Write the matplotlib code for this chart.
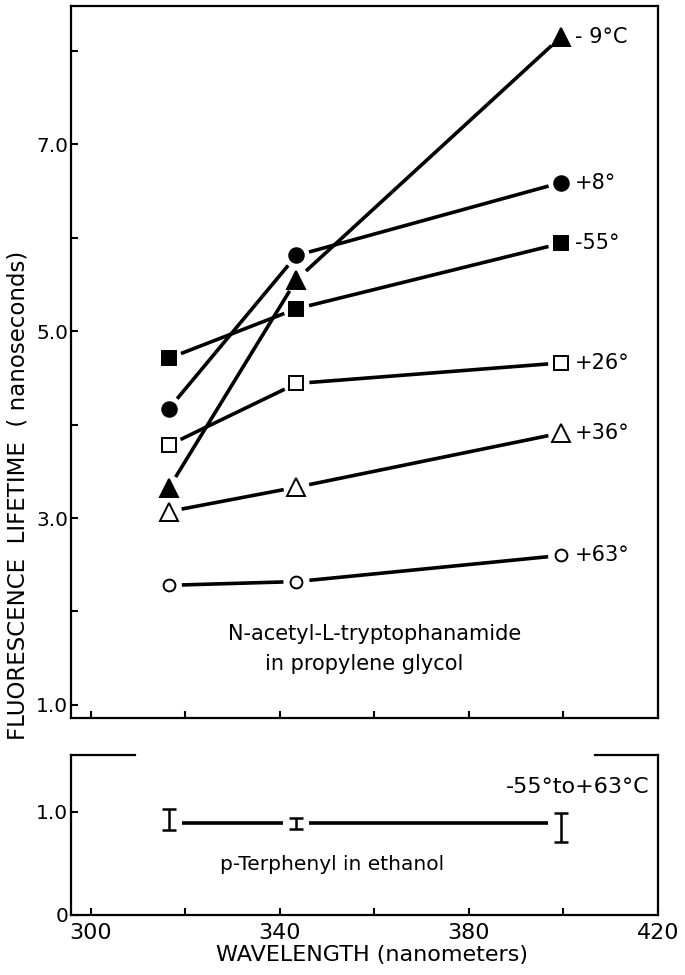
import matplotlib
matplotlib.use("Agg")
import matplotlib.pyplot as plt
import numpy as np

# ---------------- data ----------------
wavelengths = [316.5, 343.5, 399.5]

temp_labels = ["- 9°C", "+8°", "-55°", "+26°", "+36°", "+63°"]
lt_m9 = [3.32, 5.55, 8.15]
lt_p8 = [4.17, 5.81, 6.59]
lt_m55 = [4.71, 5.24, 5.94]
lt_p26 = [3.78, 4.44, 4.66]
lt_p36 = [3.07, 3.33, 3.91]
lt_p63 = [2.28, 2.32, 2.60]

pt_mean = [0.89, 0.89, 0.89]
pt_low = [0.825, 0.835, 0.71]
pt_high = [1.03, 0.94, 0.99]

x_ticks = [300, 320, 340, 360, 380, 400, 420]
x_ticklabels = ["300", "", "340", "", "380", "", "420"]
y_ticks_top = [1, 2, 3, 4, 5, 6, 7, 8]
y_ticklabels_top = ["1.0", "", "3.0", "", "5.0", "", "7.0", ""]
y_ticks_bot = [0, 1]
y_ticklabels_bot = ["0", "1.0"]

# ---------------- figure ----------------
plt.rcParams['font.family'] = ['DejaVu Sans']
W, H = 685, 975
fig = plt.figure(figsize=(W / 100, H / 100), dpi=100)

def frac(x0, y0, x1, y1):
    return [x0 / W, 1 - y1 / H, (x1 - x0) / W, (y1 - y0) / H]

ax = fig.add_axes(frac(71, 6, 658, 718))
axb = fig.add_axes(frac(71, 755, 658, 915))

XLIM = (295.8, 419.4)
ax.set_xlim(*XLIM)
ax.set_ylim(0.86, 8.48)
axb.set_xlim(*XLIM)
axb.set_ylim(0, 1.55)

for a in (ax, axb):
    for s in a.spines.values():
        s.set_linewidth(1.6)
    a.tick_params(direction='in', length=5, width=1.5, colors='black')
    a.set_xticks(x_ticks)

ax.set_xticklabels([])
axb.set_xticklabels(x_ticklabels, fontsize=16)
axb.tick_params(axis='x', pad=6)
ax.set_yticks(y_ticks_top)
ax.set_yticklabels(y_ticklabels_top, fontsize=14.5)
axb.set_yticks(y_ticks_bot)
axb.set_yticklabels(y_ticklabels_bot, fontsize=14.5)
ax.tick_params(axis='y', pad=2)
axb.tick_params(axis='y', pad=2)

# broken top spine on lower panel
axb.spines['top'].set_visible(False)
axb.plot([0, 0.109], [1, 1], transform=axb.transAxes, color='black', lw=1.6, clip_on=False)
axb.plot([0.893, 1], [1, 1], transform=axb.transAxes, color='black', lw=1.6, clip_on=False)


def gapped(a, xs, ys, gap_px, lw):
    tr = a.transData
    pts = tr.transform(np.column_stack([xs, ys]))
    inv = tr.inverted()
    for p, q in zip(pts[:-1], pts[1:]):
        d = q - p
        L = np.hypot(d[0], d[1])
        u = d / L
        pa = p + u * gap_px
        pb = q - u * gap_px
        da, db = inv.transform(np.array([pa, pb]))
        a.plot([da[0], db[0]], [da[1], db[1]], color='black', lw=lw,
               solid_capstyle='butt')


series = [
    (lt_m9, '^', 'black', 13),
    (lt_p8, 'o', 'black', 10.5),
    (lt_m55, 's', 'black', 10),
    (lt_p26, 's', 'white', 10),
    (lt_p36, '^', 'white', 12.5),
    (lt_p63, 'o', 'white', 8.5),
]

for (vals, mk, fc, ms), lab in zip(series, temp_labels):
    gapped(ax, wavelengths, vals, 13, 2.6)
    ax.plot(wavelengths, vals, linestyle='none', marker=mk, markersize=ms,
            markerfacecolor=fc, markeredgecolor='black', markeredgewidth=1.4)
    ax.annotate(lab, xy=(wavelengths[-1], vals[-1]), xytext=(10, 0),
                textcoords='offset points', ha='left', va='center', fontsize=15)

ax.text(0.518, 0.118, "N-acetyl-L-tryptophanamide", transform=ax.transAxes,
        ha='center', va='center', fontsize=15)
ax.text(0.5, 0.076, "in propylene glycol", transform=ax.transAxes,
        ha='center', va='center', fontsize=15)

# lower panel
err_lo = np.array(pt_mean) - np.array(pt_low)
err_hi = np.array(pt_high) - np.array(pt_mean)
axb.errorbar(wavelengths, pt_mean, yerr=[err_lo, err_hi], fmt='none',
             ecolor='black', elinewidth=1.8, capsize=5, capthick=1.8)
gapped(axb, wavelengths, pt_mean, 13, 2.6)

axb.text(0.985, 0.80, "-55°to+63°C", transform=axb.transAxes,
         ha='right', va='center', fontsize=16)
axb.text(0.445, 0.315, "p-Terphenyl in ethanol", transform=axb.transAxes,
         ha='center', va='center', fontsize=14.5)

fig.text(372 / W, 1 - 955 / H, "WAVELENGTH (nanometers)", ha='center',
         va='center', fontsize=16)
fig.text(18 / W, 1 - 495 / H, "FLUORESCENCE  LIFETIME  ( nanoseconds)",
         rotation=90, ha='center', va='center', fontsize=16.5)

fig.savefig("out.png", dpi=100)
